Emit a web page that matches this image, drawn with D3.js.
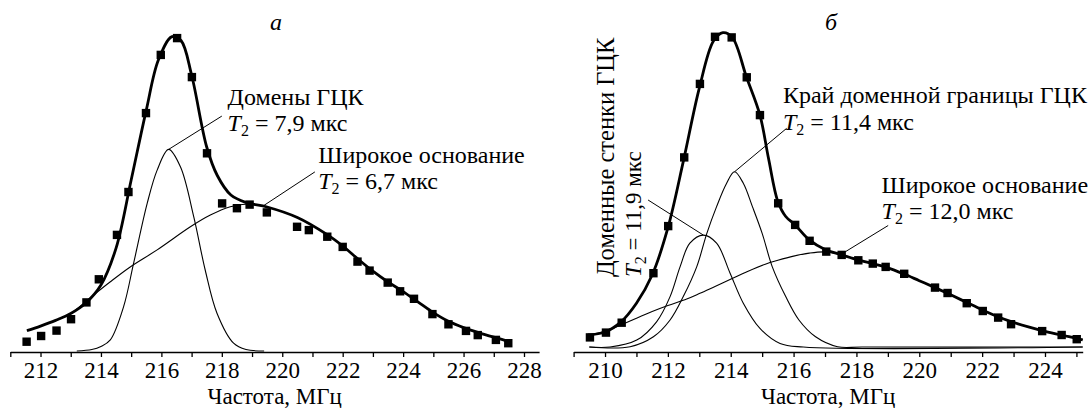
<!DOCTYPE html>
<html>
<head>
<meta charset="utf-8">
<script src="https://cdn.jsdelivr.net/npm/d3@7"></script>
<style>
  body { margin: 0; background: #fff; }
  svg { display: block; }
  svg text { font-family: "Liberation Serif", "Times New Roman", serif; }
</style>
</head>
<body>
<svg id="chart" width="1088" height="408"></svg>
<script>
// ---- panel a: frequency (MHz), intensity (arb. units) ----
var dotsA = [[211.54,3.1],[212.02,5.0],[212.53,6.8],[213.01,10.6],[213.52,16.2],[213.93,23.9],
  [214.53,38.7],[214.91,53.0],[215.49,79.3],[215.98,98.7],[216.52,104.3],[217.01,91.3],[217.51,65.9],
  [218.01,49.2],[218.50,47.6],[218.92,48.8],[219.49,46.2],[220.49,41.4],[220.88,40.3],[221.49,38.1],
  [222.00,34.7],[222.49,29.8],[222.89,26.8],[223.49,22.8],[223.90,19.9],[224.36,17.4],[224.97,12.3],
  [225.50,8.9],[226.08,6.7],[226.47,5.3],[227.07,3.7],[227.48,2.6]];
var fitA = [[211.55,6.8],[212.0,8.3],[212.5,10.2],[213.0,12.5],[213.5,16.0],[214.0,22.0],[214.5,34.3],
  [215.0,57.0],[215.5,80.3],[215.9,97.0],[216.35,104.8],[216.65,103.5],[217.0,92.0],[217.5,68.0],
  [217.85,58.5],[218.3,52.0],[218.8,49.5],[219.5,48.0],[220.5,44.5],[221.5,38.7],[222.0,35.0],
  [222.5,30.7],[223.0,26.6],[223.5,23.0],[224.0,19.8],[224.5,16.3],[225.0,12.8],[225.5,9.9],
  [226.0,7.8],[226.5,6.1],[227.0,4.6],[227.5,3.2]];
var domainsA = [[213.2,0],[213.7,0.5],[214.0,1.5],[214.31,3.7],[214.75,14.8],[215.08,29.2],[215.53,49.2],
  [215.86,60.3],[216.24,67.2],[216.63,61.4],[217.07,44.8],[217.45,27.0],[217.84,12.6],[218.39,2.6],
  [218.8,0.5],[219.4,0]];
var baseA = [[211.55,6.8],[212.0,8.3],[212.5,10.2],[213.0,12.5],[213.65,17.8],[214.3,23.0],[214.98,28.1],
  [215.86,33.7],[216.96,41.4],[217.62,45.3],[218.28,48.1],[218.9,49.0],[219.5,48.0],[220.5,44.5],
  [221.5,38.7],[222.0,35.0],[222.5,30.7],[223.0,26.6],[223.5,23.0],[224.0,19.8],[224.5,16.3],
  [225.0,12.8],[225.5,9.9],[226.0,7.8],[226.5,6.1],[227.0,4.6],[227.5,3.2]];
var labelsA = [212, 214, 216, 218, 220, 222, 224, 226, 228];

// ---- panel b ----
var dotsB = [[209.52,3.2],[210.03,4.8],[210.53,8.1],[211.54,24.6],[212.01,40.3],[212.52,63.2],
  [213.02,87.7],[213.50,103.4],[214.03,103.2],[214.51,89.9],[214.93,77.3],[215.51,47.9],[216.05,40.7],
  [216.51,35.4],[217.04,31.8],[217.53,30.7],[218.06,28.9],[218.52,27.8],[218.93,26.7],[219.52,24.4],
  [220.50,19.8],[220.90,18.0],[221.51,14.6],[222.02,12.0],[222.51,9.8],[222.92,7.6],[223.91,5.3],
  [224.53,4.0],[225.01,2.6]];
var fitB = [[209.45,4.0],[210.0,5.0],[210.5,8.3],[211.0,14.6],[211.5,24.0],[212.0,39.7],[212.5,62.3],
  [213.0,86.3],[213.45,102.0],[213.75,104.8],[214.05,103.2],[214.5,90.0],[214.93,77.3],[215.2,63.0],
  [215.5,48.5],[215.75,43.5],[216.05,40.7],[216.5,35.7],[217.0,32.5],[217.5,30.8],[218.0,29.2],
  [218.5,27.8],[219.0,26.4],[219.5,24.4],[220.0,22.1],[220.5,19.8],[221.0,17.4],[221.5,14.9],
  [222.0,12.4],[222.5,10.1],[223.0,8.2],[223.5,6.6],[224.0,5.2],[224.5,4.0],[225.0,2.9],[225.2,2.4]];
var wallsB = [[209.5,0],[210.16,0],[211.01,2.3],[211.64,8.4],[212.07,16.8],[212.39,26.8],[212.7,34.6],
  [213.13,37.3],[213.55,34.6],[213.98,24.6],[214.4,14.6],[214.93,6.2],[215.57,1.2],[216.31,0],[225.2,0]];
var edgeB = [[209.5,0],[210.8,0.1],[211.54,3.4],[212.07,9.0],[212.49,16.8],[212.92,26.8],[213.24,37.9],
  [213.55,46.8],[213.87,54.6],[214.12,58.4],[214.4,54.6],[214.69,46.8],[215.0,37.9],[215.32,26.8],
  [215.75,16.8],[216.17,9.0],[216.7,3.4],[217.4,0.1],[218.2,0],[225.2,0]];
var baseB = [[209.47,4.0],[210.0,5.2],[210.5,7.3],[211.0,9.6],[211.5,11.8],[212.0,13.8],[212.6,16.0],
  [213.0,17.8],[213.5,20.2],[214.08,23.0],[214.5,25.0],[215.1,27.6],[215.5,28.9],[216.0,30.3],
  [216.5,31.3],[217.0,31.7],[217.5,30.8],[218.0,29.2],[218.5,27.8],[219.0,26.4],[219.5,24.4],
  [220.0,22.1],[220.5,19.8],[221.0,17.4],[221.5,14.9],[222.0,12.4],[222.5,10.1],[223.0,8.2],
  [223.5,6.6],[224.0,5.2],[224.5,4.0],[225.0,2.9],[225.2,2.4]];
var labelsB = [210, 212, 214, 216, 218, 220, 222, 224];

var svg = d3.select('#chart');
var FS = 23,      // axis text
    NS = 24;      // notes
var FONT = '"Liberation Serif", "Times New Roman", serif';

function t2(text, value) {
    text.append('tspan').attr('font-style', 'italic').text('T');
    text.append('tspan').attr('font-size', 16).attr('dy', 5).text('2');
    text.append('tspan').attr('dy', -5).text(' = ' + value + ' мкс');
}

function Panel(cfg) {
    var g = svg.append('g').attr('font-family', FONT);
    var x = d3.scaleLinear().domain(cfg.xDomain).range(cfg.xRange);
    var y = d3.scaleLinear().domain([0, 105]).range(cfg.yRange);

    var ticks = d3.range(Math.ceil(cfg.xDomain[0]), Math.floor(cfg.xDomain[1]) + 1);
    var axis = d3.axisBottom(x)
        .tickValues(ticks)
        .tickSize(5)
        .tickSizeOuter(0)
        .tickPadding(5)
        .tickFormat(d => cfg.labels.indexOf(d) >= 0 ? d : '');

    var ax = g.append('g')
        .attr('transform', 'translate(0,' + cfg.axisY + ')')
        .call(axis)
        .attr('font-family', FONT)
        .attr('font-size', FS);
    ax.selectAll('path, line').attr('stroke', '#000').attr('stroke-width', 1.3);
    ax.selectAll('text').attr('fill', '#000');

    g.append('text')
        .attr('x', (cfg.xRange[0] + cfg.xRange[1]) / 2)
        .attr('y', 404.4)
        .attr('text-anchor', 'middle')
        .attr('font-size', FS)
        .text('Частота, МГц');

    var line = d3.line()
        .x(d => x(d[0]))
        .y(d => y(d[1]))
        .curve(d3.curveCatmullRom.alpha(0.5));

    g.selectAll('.part')
        .data(cfg.parts)
        .enter().append('path')
        .attr('class', 'part')
        .attr('fill', 'none')
        .attr('stroke', '#000')
        .attr('stroke-width', 1.1)
        .attr('d', line);

    g.append('path')
        .datum(cfg.fit)
        .attr('fill', 'none')
        .attr('stroke', '#000')
        .attr('stroke-width', 2.8)
        .attr('d', line);

    var s = 8.4;
    g.selectAll('.dot')
        .data(cfg.dots)
        .enter().append('rect')
        .attr('class', 'dot')
        .attr('x', d => x(d[0]) - s / 2)
        .attr('y', d => y(d[1]) - s / 2)
        .attr('width', s)
        .attr('height', s)
        .attr('fill', '#000');

    // panel letter
    g.append('text')
        .attr('x', x(cfg.letter[1]))
        .attr('y', y(cfg.letter[2]))
        .attr('text-anchor', 'middle')
        .attr('font-size', NS)
        .attr('font-style', 'italic')
        .text(cfg.letter[0]);

    // annotations: leader from peak to label, text in data coords
    cfg.notes.forEach(function(n) {
        g.append('line')
            .attr('x1', x(n.from[0])).attr('y1', y(n.from[1]))
            .attr('x2', x(n.to[0])).attr('y2', y(n.to[1]))
            .attr('stroke', '#000').attr('stroke-width', 1);
        var tx = x(n.at[0]), ty1 = y(n.at[1]), ty2 = y(n.at[2]);
        if (n.rotate) {
            g.append('text')
                .attr('transform', 'translate(' + tx + ',' + ty1 + ') rotate(-90)')
                .attr('font-size', 24.5)
                .text(n.title);
            var r = g.append('text')
                .attr('transform', 'translate(' + x(n.at[2]) + ',' + ty1 + ') rotate(-90)')
                .attr('font-size', 23);
            t2(r, n.t2);
        } else {
            g.append('text').attr('x', tx).attr('y', ty1).attr('font-size', NS).text(n.title);
            var t = g.append('text').attr('x', tx).attr('y', ty2).attr('font-size', NS);
            t2(t, n.t2);
        }
    });
}

Panel({
    xDomain: [211, 228.5], xRange: [10.3, 539.1], yRange: [351, 36], axisY: 352,
    labels: labelsA, dots: dotsA, fit: fitA, parts: [domainsA, baseA],
    letter: ['а', 219.79, 107],
    notes: [
        { title: 'Домены ГЦК', t2: '7,9', from: [216.24, 67.2], to: [218.0, 78.3], at: [218.19, 82.0, 73.4] },
        { title: 'Широкое основание', t2: '6,7', from: [219.36, 48.3], to: [221.08, 59.7], at: [221.19, 62.7, 54.0] }
    ]
});

Panel({
    xDomain: [209, 225.2], xRange: [573.6, 1082.7], yRange: [347, 32], axisY: 352,
    labels: labelsB, dots: dotsB, fit: fitB, parts: [wallsB, edgeB, baseB],
    letter: ['б', 217.19, 105.7],
    notes: [
        { title: 'Доменные стенки ГЦК', t2: '11,9', rotate: true, from: [213.13, 37.3], to: [211.37, 49.0], at: [210.29, 23.3, 211.15] },
        { title: 'Край доменной границы ГЦК', t2: '11,4', from: [214.12, 58.4], to: [215.78, 72.9], at: [215.66, 81.2, 72.5] },
        { title: 'Широкое основание', t2: '12,0', from: [217.53, 31.0], to: [219.01, 40.5], at: [218.8, 51.3, 42.6] }
    ]
});
</script>
</body>
</html>
